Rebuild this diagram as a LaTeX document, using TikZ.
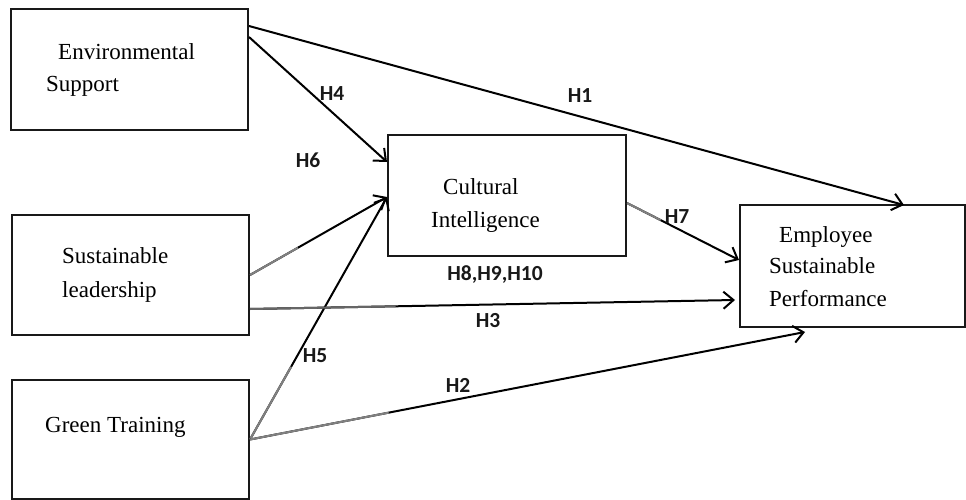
\documentclass[tikz,border=0pt]{standalone}
\usepackage{fontspec}
\setmainfont{Liberation Serif}
\newfontfamily\labfont{Carlito}
\usetikzlibrary{arrows.meta,calc}
\begin{document}
\begin{tikzpicture}[x=1pt,y=-1pt,
  box/.style={draw=black!90,line width=2pt,rectangle,inner sep=0pt,minimum width=#1},
  boxtext/.style={anchor=base west,inner sep=0pt,font=\fontsize{23}{26}\selectfont},
  hlab/.style={anchor=base,inner sep=0pt,text=black!90,font=\labfont\bfseries\fontsize{21.5}{24}\selectfont},
  conn/.style={line width=2pt,-{Straight Barb[length=10pt,width=17pt,line width=2pt]}},
  fade/.style={line width=2pt,black!50}]
\useasboundingbox (0,0) rectangle (966,500);
% boxes
\node[box=237pt,minimum height=121pt] (es) at (129.5,69.5) {};
\node[box=237pt,minimum height=120pt] (sl) at (130.5,275) {};
\node[box=237pt,minimum height=119pt] (gt) at (130.5,439.5) {};
\node[box=238pt,minimum height=121pt] (ci) at (507,195.5) {};
\node[box=225pt,minimum height=122pt] (esp) at (852.5,266) {};
% box texts
\node[boxtext] (t1) at (58,60) {Environmental};
\node[boxtext] (t2) at (46,92) {Support};
\node[boxtext] (t3) at (62,263) {Sustainable};
\node[boxtext] (t4) at (62,297) {leadership};
\node[boxtext] (t5) at (45,432) {Green Training};
\node[boxtext] (t6) at (443,194) {Cultural};
\node[boxtext] (t7) at (431,227) {Intelligence};
\node[boxtext] (t8) at (779,242) {Employee};
\node[boxtext] (t9) at (769,273) {Sustainable};
\node[boxtext] (t10) at (769,306) {Performance};
% connectors
\draw[conn] ($(es.north east)+(0,18)$) -- ($(esp.north west)+(165,1)$);
\draw[conn] ($(es.north east)+(0,29)$) -- ($(ci.north west)+(0,28)$);
\draw[conn] (sl.east) -- ($(ci.north west)+(0,63)$);
\draw[fade] (sl.east) -- ($(sl.east)!0.35!($(ci.north west)+(0,63)$)$);
\draw[conn] (gt.east) -- ($(ci.north west)+(0,63)$);
\draw[fade] (gt.east) -- ($(gt.east)!0.3!($(ci.north west)+(0,63)$)$);
\draw[conn] (gt.east) -- ($(esp.south west)+(66,4)$);
\draw[fade] (gt.east) -- ($(gt.east)!0.25!($(esp.south west)+(66,4)$)$);
\draw[conn] ($(sl.north east)+(0,95)$) -- ($(esp.north west)+(-4,96)$);
\draw[fade,black!60] ($(sl.north east)+(0,95)$) -- ($($(sl.north east)+(0,95)$)!0.3!($(esp.north west)+(-4,96)$)$);
\draw[conn] ($(ci.north east)+(0,69)$) -- ($(esp.north west)+(0,56)$);
\draw[fade] ($(ci.north east)+(0,69)$) -- ($($(ci.north east)+(0,69)$)!0.3!($(esp.north west)+(0,56)$)$);
% labels
\node[hlab] (h4) at (332,101) {H4};
\node[hlab] (h6) at (308,167) {H6};
\node[hlab] (h1) at (580,103) {H1};
\node[hlab] (h7) at (677,223) {H7};
\node[hlab] (h8) at (495,280) {H8,H9,H10};
\node[hlab] (h3) at (488,327) {H3};
\node[hlab] (h5) at (315,362) {H5};
\node[hlab] (h2) at (458,392) {H2};
\end{tikzpicture}
\end{document}
